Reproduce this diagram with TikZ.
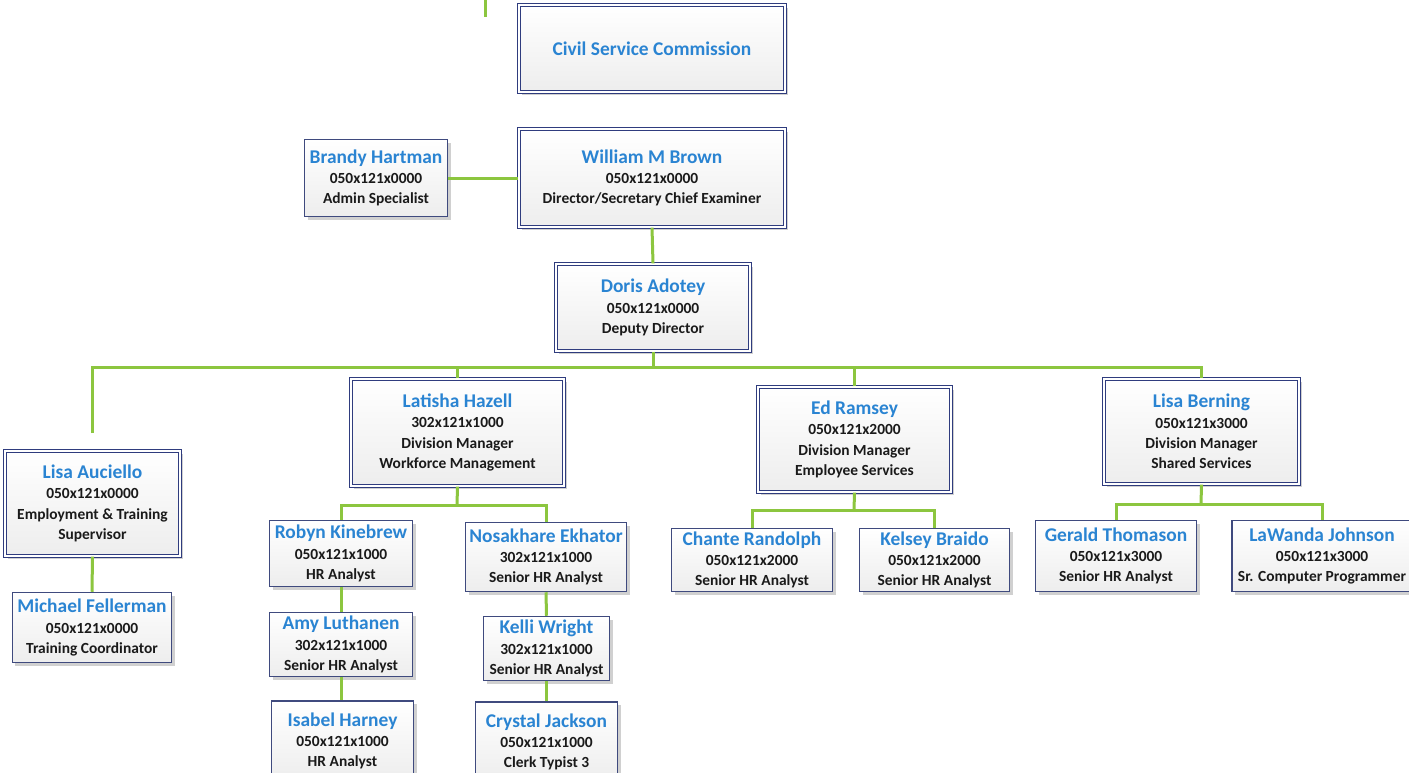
\documentclass[tikz,border=0pt]{standalone}
\usepackage{fontspec}
\setmainfont{Carlito}
\usetikzlibrary{shadows}
\definecolor{nameblue}{HTML}{2A84D2}
\definecolor{boxnavy}{HTML}{2F3C7E}
\definecolor{linegreen}{HTML}{8CC63F}
\definecolor{txt}{HTML}{1A1A1A}
\tikzset{
  base/.style={inner sep=0pt, align=center, font=\bfseries\fontsize{15.5}{20.3}\selectfont, text=txt,
    top color=white, bottom color=gray!14,
    drop shadow={shadow xshift=3bp, shadow yshift=-3bp, fill=gray!60, opacity=0.6}},
  dbox/.style={base, draw=boxnavy, double=white, double distance=2bp, line width=1.3bp},
  sbox/.style={base, draw=boxnavy!80!gray, line width=1.5bp},
  link/.style={draw=linegreen, line width=3bp},
}
\newcommand{\nm}[1]{{\color{nameblue}\fontsize{19.5}{20.3}\selectfont #1}}
\begin{document}
\begin{tikzpicture}[x=1bp,y=-1bp]
\fill[white] (0,0) rectangle (1409,772);
\useasboundingbox (0,0) rectangle (1409,772);
% nodes
\node[dbox, minimum width=266bp, minimum height=87bp] (csc) at (652,48.5) {\nm{Civil Service Commission}};
\node[dbox, minimum width=266bp, minimum height=98bp] (brown) at (652,178) {\nm{William M Brown}\\050x121x0000\\Director/Secretary Chief Examiner};
\node[sbox, minimum width=143bp, minimum height=77bp] (brandy) at (376,178) {\nm{Brandy Hartman}\\050x121x0000\\Admin Specialist};
\node[dbox, minimum width=194bp, minimum height=87bp] (doris) at (653,307.5) {\nm{Doris Adotey}\\050x121x0000\\Deputy Director};
\node[dbox, minimum width=213bp, minimum height=107bp] (latisha) at (457.5,432.5) {\nm{Latisha Hazell}\\302x121x1000\\Division Manager\\Workforce Management};
\node[dbox, minimum width=193bp, minimum height=105bp] (ramsey) at (854.5,439.5) {\nm{Ed Ramsey}\\050x121x2000\\Division Manager\\Employee Services};
\node[dbox, minimum width=195bp, minimum height=105bp] (berning) at (1201.5,431.5) {\nm{Lisa Berning}\\050x121x3000\\Division Manager\\Shared Services};
\node[dbox, minimum width=175bp, minimum height=105bp] (auciello) at (92.5,503.5) {\nm{Lisa Auciello}\\050x121x0000\\Employment \& Training\\Supervisor};
\node[sbox, minimum width=159bp, minimum height=70bp] (fellerman) at (92,627.5) {\nm{Michael Fellerman}\\050x121x0000\\Training Coordinator};
\node[sbox, minimum width=143bp, minimum height=66bp] (robyn) at (341,553.5) {\nm{Robyn Kinebrew}\\050x121x1000\\HR Analyst};
\node[sbox, minimum width=161bp, minimum height=69bp] (nosa) at (546,557) {\nm{Nosakhare Ekhator}\\302x121x1000\\Senior HR Analyst};
\node[sbox, minimum width=143bp, minimum height=64bp] (amy) at (341,644.5) {\nm{Amy Luthanen}\\302x121x1000\\Senior HR Analyst};
\node[sbox, minimum width=126bp, minimum height=64bp] (kelli) at (546.5,648.5) {\nm{Kelli Wright}\\302x121x1000\\Senior HR Analyst};
\node[sbox, minimum width=142bp, minimum height=80bp] (isabel) at (342.5,741) {\nm{Isabel Harney}\\050x121x1000\\HR Analyst};
\node[sbox, minimum width=142bp, minimum height=80bp] (crystal) at (546.5,742) {\nm{Crystal Jackson}\\050x121x1000\\Clerk Typist 3};
\node[sbox, minimum width=161bp, minimum height=63bp] (chante) at (752,560) {\nm{Chante Randolph}\\050x121x2000\\Senior HR Analyst};
\node[sbox, minimum width=150bp, minimum height=63bp] (kelsey) at (934.5,560) {\nm{Kelsey Braido}\\050x121x2000\\Senior HR Analyst};
\node[sbox, minimum width=161bp, minimum height=71bp] (gerald) at (1116,556) {\nm{Gerald Thomason}\\050x121x3000\\Senior HR Analyst};
\node[sbox, minimum width=180bp, minimum height=71bp] (lawanda) at (1322,556) {\nm{LaWanda Johnson}\\050x121x3000\\Sr. Computer Programmer};
% coordinates
\coordinate (stubtop) at (485,0);
\coordinate (stubbot) at (485,17);
\coordinate (bus) at (653,367);
\coordinate (aucend) at (92,433);
\coordinate (b2) at (457,505);
\coordinate (b3) at (854,510);
\coordinate (b4) at (1201,504);
% connectors
\draw[link] (stubtop) -- (stubbot);
\draw[link] (brandy.east) -- (brown.west);
\draw[link] (brown.south) -- (doris.north);
\draw[link] (doris.south) -- (bus);
\draw[link] (aucend) -- (aucend |- bus) -- (bus -| berning.north) -- (berning.north);
\draw[link] (latisha.north) -- (latisha.north |- bus);
\draw[link] (ramsey.north) -- (ramsey.north |- bus);
\draw[link] (auciello.south) -- (fellerman.north);
\draw[link] (latisha.south) -- (b2);
\draw[link] (robyn.north) |- (b2) -| (nosa.north);
\draw[link] (robyn.south) -- (amy.north);
\draw[link] (amy.south) -- (amy.south |- isabel.north);
\draw[link] (nosa.south) -- (kelli.north);
\draw[link] (kelli.south) -- (kelli.south |- crystal.north);
\draw[link] (ramsey.south) -- (b3);
\draw[link] (chante.north) |- (b3) -| (kelsey.north);
\draw[link] (berning.south) -- (b4);
\draw[link] (gerald.north) |- (b4) -| (lawanda.north);
\end{tikzpicture}
\end{document}
